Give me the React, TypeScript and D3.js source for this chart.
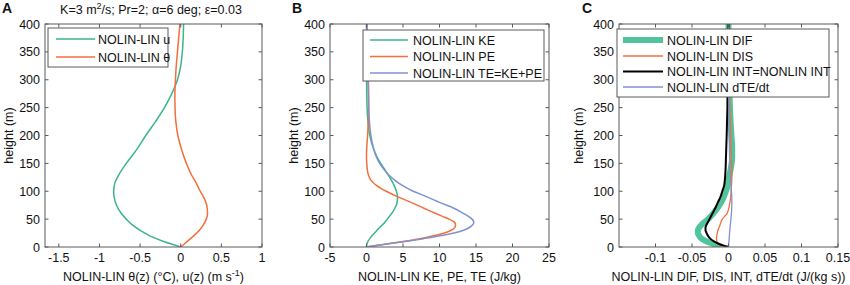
import React from 'react';
import * as d3 from 'd3';

const FONT = '"Liberation Sans", Arial, Helvetica, sans-serif';

// ---- Panel A data ----
const heightsA = [0, 10, 20, 30, 40, 50, 60, 75, 90, 100, 115, 130, 150, 175, 200, 225, 250, 275, 300, 325, 350, 375, 400];
const uA = [0, -0.21, -0.38, -0.5, -0.6, -0.67, -0.73, -0.79, -0.82, -0.825, -0.81, -0.76, -0.67, -0.54, -0.43, -0.31, -0.2, -0.11, -0.04, 0.0, 0.02, 0.03, 0.035];
const thetaA = [0, 0.08, 0.16, 0.23, 0.28, 0.315, 0.33, 0.32, 0.28, 0.24, 0.19, 0.13, 0.07, 0.01, -0.035, -0.06, -0.07, -0.072, -0.065, -0.055, -0.04, -0.025, -0.01];
const ticksA = [-1.5, -1, -0.5, 0, 0.5, 1];
const tickLabelsA = ['-1.5', '-1', '-0.5', '0', '0.5', '1'];

// ---- Panel B data ----
const heightsB = [0, 5, 10, 15, 20, 25, 30, 35, 40, 45, 50, 55, 60, 70, 80, 90, 100, 110, 120, 130, 140, 150, 160, 175, 200, 225, 250, 275, 300, 350, 400];
const keB = [0, 0.05, 0.2, 0.45, 0.75, 1.1, 1.45, 1.8, 2.2, 2.55, 2.85, 3.15, 3.45, 3.9, 4.2, 4.25, 4.1, 3.8, 3.4, 2.95, 2.45, 1.95, 1.5, 1.0, 0.45, 0.2, 0.08, 0.03, 0.01, 0, 0];
const peB = [0, 2.5, 5.0, 7.3, 9.2, 10.7, 11.6, 12.1, 12.2, 12.0, 11.3, 10.4, 9.5, 7.8, 6.1, 4.3, 2.7, 1.4, 0.6, 0.25, 0.1, 0.03, 0.0, 0.02, 0.15, 0.25, 0.3, 0.3, 0.25, 0.15, 0.05];
const teB = [0, 2.6, 5.3, 7.8, 10.1, 12.0, 13.3, 14.1, 14.55, 14.7, 14.45, 13.95, 13.3, 11.9, 10.0, 8.3, 6.4, 4.95, 3.85, 3.0, 2.35, 1.8, 1.4, 1.0, 0.6, 0.4, 0.3, 0.25, 0.2, 0.12, 0.08];
const ticksB = [-5, 0, 5, 10, 15, 20, 25];
const tickLabelsB = ['-5', '0', '5', '10', '15', '20', '25'];

// ---- Panel C data ----
const heightsC = [0, 5, 10, 15, 20, 25, 30, 35, 40, 50, 60, 70, 80, 90, 100, 110, 120, 140, 160, 180, 200, 250, 300, 350, 400];
const difC = [-0.01, -0.02, -0.03, -0.037, -0.04, -0.042, -0.042, -0.04, -0.037, -0.028, -0.021, -0.015, -0.01, -0.0065, -0.0035, -0.0012, 0.0, 0.003, 0.005, 0.005, 0.004, 0.002, 0.001, 0.0, 0.0];
const disC = [-0.006, -0.013, -0.016, -0.0165, -0.016, -0.0155, -0.0145, -0.013, -0.0115, -0.0085, -0.002, 0.0005, 0.002, 0.003, 0.0035, 0.004, 0.0045, 0.0045, 0.004, 0.0035, 0.003, 0.002, 0.001, 0.0005, 0];
const intC = [0, -0.012, -0.02, -0.025, -0.028, -0.03, -0.0315, -0.0315, -0.03, -0.026, -0.022, -0.018, -0.0145, -0.011, -0.0085, -0.006, -0.005, -0.004, -0.0035, -0.003, -0.0025, -0.0015, -0.001, -0.0005, 0];
const dtedtC = [0, 0.0003, 0.0006, 0.0009, 0.0012, 0.0015, 0.0018, 0.0021, 0.0025, 0.0033, 0.004, 0.0044, 0.0046, 0.0045, 0.004, 0.0034, 0.0028, 0.002, 0.0015, 0.0012, 0.001, 0.0006, 0.0003, 0.0001, 0];
const ticksC = [-0.1, -0.05, 0, 0.05, 0.1, 0.15];
const tickLabelsC = ['-0.1', '-0.05', '0', '0.05', '0.1', '0.15'];

const heightTicks = [0, 50, 100, 150, 200, 250, 300, 350, 400];

const GREEN = '#3bb58a';
const ORANGE = '#f36f3c';
const BLUE = '#7f92d0';
const DIFGREEN = '#52c49b';
const AXIS = '#5a5a5a';

type Series = { name: string; xs: number[]; hs: number[]; color: string; width: number };

type PanelProps = {
  left: number; right: number; top: number; bottom: number;
  domain: [number, number];
  ticks: number[]; tickLabels: string[];
  series: Series[];
  legend: { x0: number; x1: number; y0: number; y1: number; rows: number[]; lineX0: number; lineX1: number; textX: number };
  letter: string; letterX: number;
  ylabelX: number;
  xlabel: React.ReactNode;
  id: string;
};

function Panel(p: PanelProps) {
  const x = d3.scaleLinear().domain(p.domain).range([p.left, p.right]);
  const y = d3.scaleLinear().domain([0, 400]).range([p.bottom, p.top]);
  const tl = 3.5;
  const cx = (p.left + p.right) / 2;
  return (
    <g>
      <defs>
        <clipPath id={'clip' + p.id}>
          <rect x={p.left} y={p.top} width={p.right - p.left} height={p.bottom - p.top} />
        </clipPath>
      </defs>
      <g clipPath={`url(#clip${p.id})`}>
        {p.series.map((s) => {
          const pts = s.hs.map((h, i) => [s.xs[i], h] as [number, number]);
          const line = d3.line<[number, number]>().x((d) => x(d[0])).y((d) => y(d[1])).curve(d3.curveMonotoneY);
          return <path key={s.name} d={line(pts) || ''} fill="none" stroke={s.color} strokeWidth={s.width} strokeLinejoin="round" />;
        })}
      </g>
      <rect x={p.left} y={p.top} width={p.right - p.left} height={p.bottom - p.top} fill="none" stroke={AXIS} strokeWidth={1} />
      {p.ticks.map((t, i) => (
        <g key={'xt' + i}>
          <line x1={x(t)} x2={x(t)} y1={p.bottom} y2={p.bottom - tl} stroke={AXIS} />
          <line x1={x(t)} x2={x(t)} y1={p.top} y2={p.top + tl} stroke={AXIS} />
          <text x={x(t)} y={262} textAnchor="middle" fontSize={12.5} fontFamily={FONT} fill="#111">{p.tickLabels[i]}</text>
        </g>
      ))}
      {heightTicks.map((t) => (
        <g key={'yt' + t}>
          <line x1={p.left} x2={p.left + tl} y1={y(t)} y2={y(t)} stroke={AXIS} />
          <line x1={p.right} x2={p.right - tl} y1={y(t)} y2={y(t)} stroke={AXIS} />
          <text x={p.left - 5} y={y(t) + 4.5} textAnchor="end" fontSize={12.5} fontFamily={FONT} fill="#111">{t}</text>
        </g>
      ))}
      <text transform={`translate(${p.ylabelX},${(p.top + p.bottom) / 2}) rotate(-90)`} textAnchor="middle" fontSize={12.5} fontFamily={FONT} fill="#111">height (m)</text>
      <text x={cx} y={281} textAnchor="middle" fontSize={12.5} fontFamily={FONT} fill="#111">{p.xlabel}</text>
      <text x={p.letterX} y={13} fontSize={14} fontWeight="bold" fontFamily={FONT} fill="#111">{p.letter}</text>
      <rect x={p.legend.x0} y={p.legend.y0} width={p.legend.x1 - p.legend.x0} height={p.legend.y1 - p.legend.y0} fill="#fff" stroke={AXIS} strokeWidth={1} />
      {p.series.map((s, i) => (
        <g key={'lg' + i}>
          <line x1={p.legend.lineX0} x2={p.legend.lineX1} y1={p.legend.rows[i]} y2={p.legend.rows[i]} stroke={s.color} strokeWidth={s.width} />
          <text x={p.legend.textX} y={p.legend.rows[i] + 4.5} fontSize={12.5} fontFamily={FONT} fill="#111">{s.name}</text>
        </g>
      ))}
    </g>
  );
}

export default function App() {
  return (
    <svg width={850} height={285} style={{ display: 'block', position: 'absolute', left: 0, top: 0, background: '#fff' }}>
      <rect x={0} y={0} width={850} height={285} fill="#fff" />
      <text x={151} y={13.5} textAnchor="middle" fontSize={12.5} fontFamily={FONT} fill="#111">
        K=3 m<tspan dy={-5} fontSize={9}>2</tspan><tspan dy={5}>/s; Pr=2; α=6 deg; ε=0.03</tspan>
      </text>
      <Panel
        id="A" left={45} right={262} top={24} bottom={247}
        domain={[-1.67, 1]} ticks={ticksA} tickLabels={tickLabelsA}
        series={[
          { name: 'NOLIN-LIN u', xs: uA, hs: heightsA, color: GREEN, width: 1.5 },
          { name: 'NOLIN-LIN θ', xs: thetaA, hs: heightsA, color: ORANGE, width: 1.5 },
        ]}
        legend={{ x0: 48, x1: 168, y0: 28, y1: 67, rows: [39, 57], lineX0: 56, lineX1: 95, textX: 98 }}
        letter="A" letterX={2} ylabelX={13}
        xlabel={<>NOLIN-LIN θ(z) (°C), u(z) (m s<tspan dy={-5} fontSize={9}>-1</tspan><tspan dy={5}>)</tspan></>}
      />
      <Panel
        id="B" left={330} right={549} top={24} bottom={247}
        domain={[-5, 25]} ticks={ticksB} tickLabels={tickLabelsB}
        series={[
          { name: 'NOLIN-LIN KE', xs: keB, hs: heightsB, color: GREEN, width: 1.5 },
          { name: 'NOLIN-LIN PE', xs: peB, hs: heightsB, color: ORANGE, width: 1.5 },
          { name: 'NOLIN-LIN TE=KE+PE', xs: teB, hs: heightsB, color: BLUE, width: 1.5 },
        ]}
        legend={{ x0: 363, x1: 544, y0: 30, y1: 81, rows: [40, 56.5, 73], lineX0: 370, lineX1: 408, textX: 413 }}
        letter="B" letterX={292} ylabelX={298}
        xlabel={<>NOLIN-LIN KE, PE, TE (J/kg)</>}
      />
      <Panel
        id="C" left={619} right={838} top={24} bottom={247}
        domain={[-0.15, 0.15]} ticks={ticksC} tickLabels={tickLabelsC}
        series={[
          { name: 'NOLIN-LIN DIF', xs: difC, hs: heightsC, color: DIFGREEN, width: 6 },
          { name: 'NOLIN-LIN DIS', xs: disC, hs: heightsC, color: ORANGE, width: 1.3 },
          { name: 'NOLIN-LIN INT=NONLIN INT', xs: intC, hs: heightsC, color: '#000', width: 2 },
          { name: 'NOLIN-LIN dTE/dt', xs: dtedtC, hs: heightsC, color: BLUE, width: 1.3 },
        ]}
        legend={{ x0: 617, x1: 829, y0: 29, y1: 97, rows: [40, 56, 71.5, 87], lineX0: 623, lineX1: 663, textX: 667 }}
        letter="C" letterX={582} ylabelX={583}
        xlabel={<>NOLIN-LIN DIF, DIS, INT, dTE/dt (J/(kg s))</>}
      />
    </svg>
  );
}
